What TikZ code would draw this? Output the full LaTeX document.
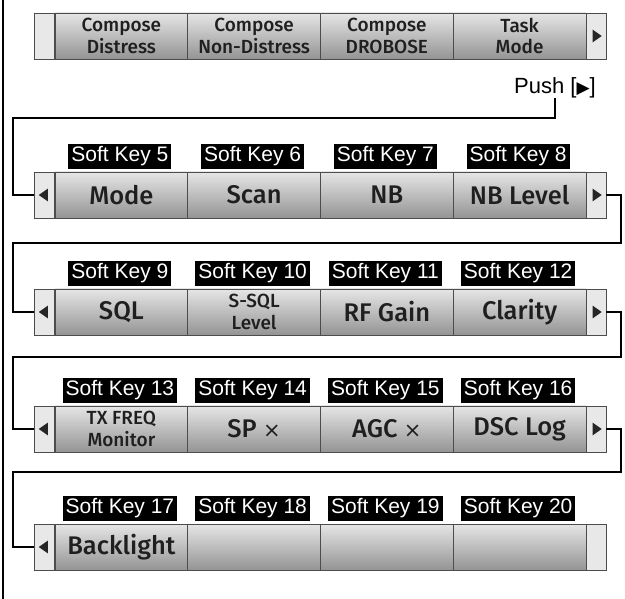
\documentclass[tikz,border=0pt]{standalone}
\usepackage{fontspec}
\usepackage{tikz}
\usetikzlibrary{shapes.geometric}
\usetikzlibrary{positioning}
\usepackage{xcolor}
\newfontfamily\keyfont{Fira Sans Medium}
\newfontfamily\tagfont{Liberation Sans}
\newfontfamily\symfont{DejaVu Sans}
\newcommand\cross{{\symfont\fontsize{21}{25}\selectfont ×}}

\tikzset{
    key/.style={draw=black!70, line width=0.6pt, top color=black!10, bottom color=black!42,
        minimum width=132.75pt, minimum height=46pt, inner sep=0pt, outer sep=0pt,
        text=black!88, align=center},
    keyL/.style={font=\keyfont\fontsize{25.5}{27}\selectfont},
    keyM/.style={font=\keyfont\fontsize{19}{21.5}\selectfont},
    side/.style={draw=black!70, line width=0.6pt, fill=black!9,
        minimum width=20.5pt, minimum height=46pt, inner sep=0pt, outer sep=0pt},
    tag/.style={fill=black, text=white, font=\tagfont\fontsize{21}{22}\selectfont,
        inner xsep=3pt, inner ysep=0pt, minimum height=25pt, anchor=south},
    tip/.style={isosceles triangle, isosceles triangle apex angle=70, fill=black!85,
        inner sep=0pt, minimum size=9pt},
    link/.style={line width=2pt}
}

\begin{document}
\begin{tikzpicture}[x=1pt,y=-1pt]
    \useasboundingbox (0,0) rectangle (625,599);
    \draw[line width=1.2pt] (3,0) -- (3,599);

    % side cells
    \foreach \r/\y in {1/36,2/195,3/312,4/429,5/547}{
        \node[side] (l\r) at (44.5,\y) {};
        \node[side] (r\r) at (596,\y) {};
    }

    % keys, row by row
    \foreach \t [count=\i] in {{Compose\\Distress},{Compose\\Non-Distress},{Compose\\DROBOSE},{Task\\Mode}}
        \node[key,keyM] (k1\i) at ({55+132.75*(\i-0.5)},36) {\t};
    \foreach \t [count=\i] in {Mode,Scan,NB,NB Level}
        \node[key,keyL] (k2\i) at ({55+132.75*(\i-0.5)},195) {\t};
    \foreach \t/\s [count=\i] in {SQL/keyL,{S-SQL\\Level}/keyM,RF Gain/keyL,Clarity/keyL}
        \node[key,\s] (k3\i) at ({55+132.75*(\i-0.5)},312) {\t};
    \foreach \t/\s [count=\i] in {{TX FREQ\\Monitor}/keyM,SP \cross/keyL,AGC \cross/keyL,DSC Log/keyL}
        \node[key,\s] (k4\i) at ({55+132.75*(\i-0.5)},429) {\t};
    \foreach \t [count=\i] in {Backlight,{},{},{}}
        \node[key,keyL] (k5\i) at ({55+132.75*(\i-0.5)},547) {\t};

    % soft key tags
    \foreach \r/\s in {2/5,3/9,4/13,5/17}
        \foreach \i in {1,...,4}{
            \pgfmathtruncatemacro\n{\s+\i-1}
            \node[tag] (tag\n) at ([xshift=-1.5pt,yshift=3pt]k\r\i.north) {Soft Key \n};
        }

    % arrows in the side cells
    \foreach \r in {1,2,3,4}
        \node[tip] (rt\r) at (r\r) {};
    \foreach \r in {2,3,4,5}
        \node[tip, shape border rotate=180] (lt\r) at (l\r) {};

    \node[font=\tagfont\fontsize{22}{24}\selectfont, inner sep=0pt, anchor=south] (push)
        at (555,98) {Push [{\symfont\fontsize{17}{20}\selectfont ▶}]};

    % connectors
    \coordinate (w1) at (13,118);
    \draw[link] (push.south) |- (w1) |- (l2.west);
    \foreach \r/\m [evaluate=\r as \s using int(\r+1)] in {2/243,3/357,4/472}{
        \coordinate (e\r) at (621,\m);
        \coordinate (w\r) at (13,\m);
        \draw[link] (r\r.east) -| (e\r) -- (w\r) |- (l\s.west);
    }
\end{tikzpicture}
\end{document}
